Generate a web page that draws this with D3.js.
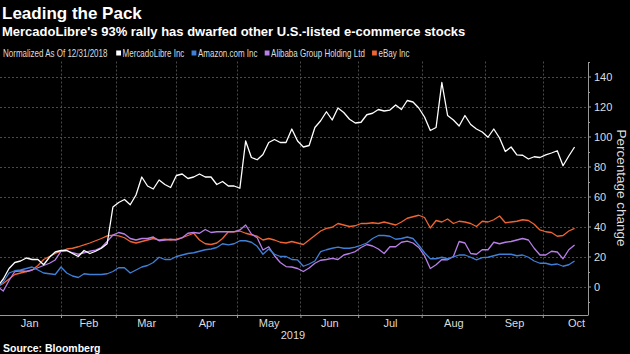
<!DOCTYPE html>
<html>
<head>
<meta charset="utf-8">
<script src="https://cdn.jsdelivr.net/npm/d3@7"></script>
<style>
  html, body { margin: 0; padding: 0; background: #000; }
  svg { display: block; }
</style>
</head>
<body>
<svg id="chart" width="630" height="354"></svg>
<script>
// trading session index, 0 = 12/31/2018 (every 2nd session)
const days = [0, 2, 4, 6, 8, 10, 12, 14, 16, 18, 20, 22, 24, 26, 28, 30, 32, 34, 36, 38,
  40, 42, 44, 46, 48, 50, 52, 54, 56, 58, 60, 62, 64, 66, 68, 70, 72, 74, 76, 78,
  80, 82, 84, 86, 88, 90, 92, 94, 96, 98, 100, 102, 104, 106, 108, 110, 112, 114, 116, 118,
  120, 122, 124, 126, 128, 130, 132, 134, 136, 138, 140, 142, 144, 146, 148, 150, 152, 154, 156, 158,
  160, 162, 164, 166, 168, 170, 172, 174, 176, 178, 180, 182, 184, 186, 188, 190, 192, 194, 196, 198, 200];

const mercadoLibre = [0, 5, 12, 16, 17, 19, 18, 18, 14.5, 19.5, 23, 24, 24, 22, 20, 24, 22, 23.5, 25.5, 28.5,
  53, 56, 58, 54.5, 61, 73, 67, 65, 71, 68, 66, 74, 75, 72, 73, 75, 73, 73, 68, 70,
  67, 67, 65.5, 97, 86, 84.5, 88, 96, 98, 96, 96, 105, 97, 93, 94, 106, 110.5, 116.5, 111, 119,
  116, 111.5, 109, 109.5, 114.5, 115.5, 118, 117, 117.6, 121, 118, 124, 123, 119, 113, 104, 106, 136, 114, 111,
  107, 114, 108, 105, 103, 99.5, 105, 99, 90, 93, 87.7, 87.5, 85, 86.5, 86, 87.7, 89, 90.5, 80.5, 87, 93];

const amazon = [0, 3, 9, 10.5, 11, 12, 13, 11, 9, 8.5, 8, 13, 9, 7, 6, 8.5, 8, 8, 8, 8.5,
  10, 12.5, 12.5, 9, 11, 13, 14, 16, 19.5, 18, 18, 20, 21, 22, 22.5, 23.5, 24.5, 25, 26, 28.5,
  27.7, 28.5, 30.5, 30.5, 29.5, 26.8, 21.5, 25, 21.5, 20, 20, 18, 17.7, 13.5, 15, 17, 23.3, 24.5, 25.5, 26.2,
  25.5, 25.5, 26.2, 27.5, 29, 32, 34, 34, 33.5, 31.5, 32, 33, 32, 27.5, 22.5, 18.5, 18.5, 19.5, 18.5, 19.8,
  21, 21, 19.5, 17.7, 19.3, 19.5, 20.5, 21.5, 21.5, 21.5, 20.5, 21, 19.5, 17, 15.5, 15.5, 14.5, 15, 13.5, 14.5, 17];

const alibaba = [0, -3, 4, 10, 10.5, 10, 11, 12.5, 14, 15.5, 17.7, 23.5, 24, 22.5, 21.5, 22.5, 23.5, 24.3, 26, 30,
  34.3, 36, 35, 32, 31, 32, 32, 33, 30.5, 31, 31.5, 31, 32.5, 35.5, 36, 35.5, 38, 36, 36.5, 36.5,
  36.5, 36.5, 37.7, 41, 35, 32.5, 24.3, 26.5, 20.5, 16, 13.3, 13, 12, 10, 12.3, 15.5, 17.5, 18, 18.8, 18,
  21, 22, 23.3, 26, 28, 27, 25, 22, 26.5, 26.5, 29.5, 30.3, 29, 26, 20.5, 12, 14.5, 18, 17.8, 20,
  30, 29, 22, 21.5, 24.5, 24.5, 29.5, 28.5, 29.5, 30, 31, 32, 31, 25.5, 21, 21, 23.5, 23, 18.5, 24.5, 27.7];

const ebay = [0, 2, 5, 8, 9, 10, 11, 14, 18, 20, 22, 23.5, 25, 25.5, 26.5, 27.7, 29, 30.5, 32, 33.7,
  34.3, 33.7, 32.5, 30, 29, 30, 31, 32, 31, 31.5, 31, 31.5, 32.5, 34, 35.5, 31, 28.5, 28, 29, 32,
  36.5, 36.5, 37, 35.5, 34.5, 33.5, 31, 32, 31, 29.5, 29, 30, 29, 28, 31, 34, 37, 38.8, 39.5, 42,
  41, 40, 40.5, 42, 42, 42.5, 42, 43, 42, 41, 43, 45.5, 46.5, 47.5, 46, 39, 44, 43, 45, 42,
  43.5, 43, 42, 40, 43.5, 43, 44.5, 47, 42.5, 43, 43.5, 44.5, 44, 41.5, 37.7, 36.5, 36, 33.5, 34, 37, 38.8];

const seriesNames = ["MercadoLibre Inc", "Amazon.com Inc", "Alibaba Group Holding Ltd", "eBay Inc"];
const seriesColors = ["#ffffff", "#3f7fd8", "#b87fe8", "#ee6432"];

// first session of each month, month names, label positions
const monthStarts = [22, 41, 62, 83, 105, 125, 147, 169, 189];
const monthNames = ["Jan", "Feb", "Mar", "Apr", "May", "Jun", "Jul", "Aug", "Sep", "Oct"];
const monthMids = [11, 31.5, 51.5, 72.5, 94, 115, 136, 158, 179, 200.5];
const yTicks = [0, 20, 40, 60, 80, 100, 120, 140];
const yMinor = [-10, 10, 30, 50, 70, 90, 110, 130, 150];

const svg = d3.select("#chart");
const font = '"Liberation Sans", Arial, sans-serif';

let plot = { left: 0, right: 588, top: 61.5, bottom: 315 };

let x = d3.scaleLinear().domain([0, 205]).range([-2.5, 589]);
let y = d3.scaleLinear().domain([-19, 150]).range([plot.bottom, plot.top]);

//#region titles
svg.append("text")
  .attr("x", 2).attr("y", 19)
  .attr("fill", "#fff")
  .style("font", "bold 17px " + font)
  .text("Leading the Pack");

svg.append("text")
  .attr("x", 2).attr("y", 36)
  .attr("fill", "#fff")
  .style("font", "bold 13px " + font)
  .text("MercadoLibre's 93% rally has dwarfed other U.S.-listed e-commerce stocks");

svg.append("text")
  .attr("x", 3).attr("y", 352)
  .attr("fill", "#fff")
  .style("font", "bold 10.5px " + font)
  .text("Source: Bloomberg");
//#endregion

//#region legend (condensed look: squeeze the whole row horizontally)
const squeeze = 0.8;
let legend = svg.append("g").attr("transform", `translate(3,53) scale(${squeeze},1)`);
let lx = 0;
let note = legend.append("text")
  .attr("x", lx).attr("y", 3.5)
  .attr("fill", "#ddd")
  .style("font", "10px " + font)
  .text("Normalized As Of 12/31/2018");
lx += note.node().getComputedTextLength() + 11;

seriesNames.forEach((name, i) => {
  legend.append("rect")
    .attr("x", lx).attr("y", -2.5)
    .attr("width", 6).attr("height", 5)
    .attr("fill", seriesColors[i]);
  let t = legend.append("text")
    .attr("x", lx + 8).attr("y", 3.5)
    .attr("fill", "#ddd")
    .style("font", "10px " + font)
    .text(name);
  lx += 8 + t.node().getComputedTextLength() + 9;
});
//#endregion

//#region grid
let grid = svg.append("g")
  .attr("stroke", "#5c5c5c")
  .attr("stroke-dasharray", "2,2")
  .attr("stroke-width", 0.8);

grid.selectAll(".y")
  .data(yTicks)
  .join("line")
  .attr("class", "y")
  .attr("x1", plot.left).attr("x2", plot.right)
  .attr("y1", d => Math.round(y(d)) + 0.5)
  .attr("y2", d => Math.round(y(d)) + 0.5);

grid.selectAll(".x")
  .data(monthStarts)
  .join("line")
  .attr("class", "x")
  .attr("y1", plot.top).attr("y2", plot.bottom)
  .attr("x1", d => Math.round(x(d)) + 0.5)
  .attr("x2", d => Math.round(x(d)) + 0.5);
//#endregion

//#region lines
svg.append("clipPath").attr("id", "clip")
  .append("rect")
  .attr("x", plot.left).attr("y", plot.top)
  .attr("width", plot.right - plot.left)
  .attr("height", plot.bottom - plot.top);

let line = d3.line()
  .x((d, i) => x(days[i]))
  .y(d => y(d));

let gLines = svg.append("g").attr("clip-path", "url(#clip)");
const drawOrder = [3, 2, 1, 0];
const allSeries = [mercadoLibre, amazon, alibaba, ebay];
drawOrder.forEach(k => {
  gLines.append("path")
    .datum(allSeries[k])
    .attr("fill", "none")
    .attr("stroke", seriesColors[k])
    .attr("stroke-width", 1.3)
    .attr("stroke-linejoin", "round")
    .attr("d", line);
});
//#endregion

//#region axes
let xAxis = svg.append("g")
  .attr("transform", `translate(0,${plot.bottom})`)
  .call(d3.axisBottom(x).tickValues(monthStarts).tickSize(3).tickFormat("").tickSizeOuter(0));
xAxis.select(".domain").remove();
xAxis.append("line")
  .attr("x1", plot.left).attr("x2", plot.right)
  .attr("y1", 0.5).attr("y2", 0.5)
  .attr("stroke", "#999");
xAxis.selectAll(".tick line").attr("stroke", "#999");

let xLabels = svg.append("g")
  .attr("transform", `translate(0,${plot.bottom})`)
  .call(d3.axisBottom(x).tickValues(monthMids).tickSize(0).tickPadding(4)
    .tickFormat((d, i) => monthNames[i]));
xLabels.select(".domain").remove();
xLabels.selectAll("text")
  .attr("fill", "#ddd")
  .style("font", "11px " + font);

svg.append("text")
  .attr("x", 293).attr("y", 339)
  .attr("text-anchor", "middle")
  .attr("fill", "#ddd")
  .style("font", "11px " + font)
  .text("2019");

let yAxis = svg.append("g")
  .attr("transform", `translate(${plot.right},0)`)
  .call(d3.axisRight(y).tickValues(yTicks).tickSize(3).tickPadding(3).tickSizeOuter(0));
yAxis.select(".domain").attr("stroke", "#999");
yAxis.selectAll(".tick line").attr("stroke", "#999");
yAxis.selectAll("text")
  .attr("fill", "#ddd")
  .style("font", "11px " + font);

svg.append("g")
  .attr("transform", `translate(${plot.right},0)`)
  .selectAll("line")
  .data(yMinor)
  .join("line")
  .attr("x1", 0).attr("x2", 2)
  .attr("y1", d => Math.round(y(d)) + 0.5)
  .attr("y2", d => Math.round(y(d)) + 0.5)
  .attr("stroke", "#999");

svg.append("text")
  .attr("transform", "translate(617,188) rotate(90)")
  .attr("text-anchor", "middle")
  .attr("fill", "#ddd")
  .style("font", "13.5px " + font)
  .text("Percentage change");
//#endregion
</script>
</body>
</html>
